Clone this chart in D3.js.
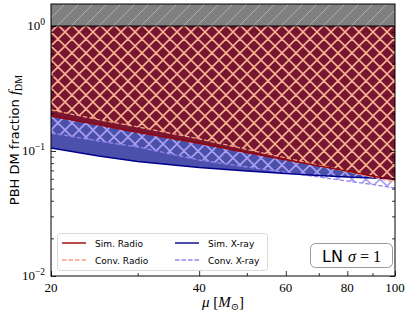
<!DOCTYPE html>
<html>
<head>
<meta charset="utf-8">
<script src="https://cdn.jsdelivr.net/npm/d3@7"></script>
<style>
  body { margin: 0; background: #fff; }
  svg { display: block; }
</style>
</head>
<body>
<div id="chart-area"></div>
<script>
// masses (x) and limits
const masses = [20, 25, 30, 40, 50, 60, 70, 80, 90, 100];
const simRadio = [0.190, 0.162, 0.141, 0.115, 0.097, 0.085, 0.076, 0.069, 0.063, 0.059];
const convRadio = [0.213, 0.178, 0.156, 0.125, 0.103, 0.088, 0.077, 0.0686, 0.0619, 0.0565];
const simXray = [0.1057, 0.0912, 0.0824, 0.0738, 0.0692, 0.0661, 0.0637, 0.0619, 0.0608, 0.0597];
const convXray = [0.1393, 0.1202, 0.1076, 0.0847, 0.0745, 0.0673, 0.0619, 0.0575, 0.054, 0.0506];
const xTickLabels = [20, 40, 60, 80, 100];
const xMinorTicks = [30, 50, 70, 90];
const yMajorTicks = [0.01, 0.1, 1];

const margin = { left: 51, right: 14, top: 4, bottom: 40 };
const width = 409 - margin.left - margin.right;
const height = 316 - margin.top - margin.bottom;

const svg = d3.select('#chart-area').append('svg')
  .attr('width', 409)
  .attr('height', 316);

const defs = svg.append('defs');

// x hatch pattern
function crossHatch(id, color, size) {
  const p = defs.append('pattern')
    .attr('id', id)
    .attr('patternUnits', 'userSpaceOnUse')
    .attr('width', size)
    .attr('height', size);
  p.append('path')
    .attr('d', `M0,0L${size},${size}M0,${size}L${size},0M${-size / 2},${size / 2}L${size / 2},${-size / 2}M${size / 2},${size * 1.5}L${size * 1.5},${size / 2}M${-size / 2},${size / 2}L${size / 2},${size * 1.5}M${size / 2},${-size / 2}L${size * 1.5},${size / 2}`)
    .attr('stroke', color)
    .attr('stroke-width', 1.6)
    .attr('fill', 'none');
}
crossHatch('radioHatch', '#f8b090', 14);
crossHatch('xrayHatch', '#aaa0f2', 14);

const gp = defs.append('pattern')
  .attr('id', 'grayHatch')
  .attr('patternUnits', 'userSpaceOnUse')
  .attr('width', 14)
  .attr('height', 14);
gp.append('path')
  .attr('d', 'M0,14L14,0M-7,7L7,-7M7,21L21,7')
  .attr('stroke', '#b8b8b8')
  .attr('stroke-width', 0.8);

defs.append('clipPath').attr('id', 'clip')
  .append('rect').attr('width', width).attr('height', height);

const g = svg.append('g')
  .attr('transform', `translate(${margin.left}, ${margin.top})`);

const x = d3.scaleLog().domain([20, 100]).range([0, width]);
const y = d3.scaleLog().domain([0.01, 1.5]).range([height, 0]);

const plot = g.append('g').attr('clip-path', 'url(#clip)');

const area = vals => d3.area()
  .x((d, i) => x(masses[i]))
  .y0(y(1))
  .y1((d) => y(d))(vals);

const line = vals => d3.line()
  .x((d, i) => x(masses[i]))
  .y(d => y(d))(vals);

// excluded region above f=1
plot.append('rect')
  .attr('x', 0).attr('y', y(1.5))
  .attr('width', width).attr('height', y(1) - y(1.5))
  .attr('fill', '#808080');
plot.append('rect')
  .attr('x', 0).attr('y', y(1.5))
  .attr('width', width).attr('height', y(1) - y(1.5))
  .attr('fill', 'url(#grayHatch)');

// x-ray fill + hatch
plot.append('path').attr('d', area(simXray)).attr('fill', '#4b50ab');
plot.append('path').attr('d', area(convXray)).attr('fill', 'url(#xrayHatch)');
// radio fill + hatch
plot.append('path').attr('d', area(simRadio)).attr('fill', '#781632');
plot.append('path').attr('d', area(convRadio)).attr('fill', 'url(#radioHatch)');

// lines
plot.append('path').attr('d', line(convXray))
  .attr('fill', 'none').attr('stroke', '#9385ee').attr('stroke-width', 1.3)
  .attr('stroke-dasharray', '4.5,2');
plot.append('path').attr('d', line(simXray))
  .attr('fill', 'none').attr('stroke', '#00008b').attr('stroke-width', 1.4);
plot.append('path').attr('d', line(convRadio))
  .attr('fill', 'none').attr('stroke', '#f5a080').attr('stroke-width', 1.3)
  .attr('stroke-dasharray', '4.5,2');
plot.append('path').attr('d', line(simRadio))
  .attr('fill', 'none').attr('stroke', '#9b0000').attr('stroke-width', 1.4);

plot.append('line')
  .attr('x1', 0).attr('x2', width)
  .attr('y1', y(1)).attr('y2', y(1))
  .attr('stroke', '#000').attr('stroke-width', 1);

// axes, ticks inward
const serif = 'Liberation Serif, DejaVu Serif, serif';
const sans = 'DejaVu Sans, sans-serif';

const yMinor = [];
[0.01, 0.1, 1].forEach(b => d3.range(2, 10).forEach(k => {
  if (b * k < 1.5) yMinor.push(b * k);
}));

function styleAxis(sel) {
  sel.select('.domain').remove();
  sel.selectAll('line').attr('stroke', '#000').attr('stroke-width', 0.8);
}

g.append('g').call(d3.axisLeft(y).tickValues(yMajorTicks).tickSize(-5).tickFormat(''))
  .call(styleAxis);
g.append('g').call(d3.axisLeft(y).tickValues(yMinor).tickSize(-3).tickFormat(''))
  .call(styleAxis);
g.append('g').attr('transform', `translate(${width},0)`)
  .call(d3.axisRight(y).tickValues(yMajorTicks).tickSize(-5).tickFormat(''))
  .call(styleAxis);
g.append('g').attr('transform', `translate(${width},0)`)
  .call(d3.axisRight(y).tickValues(yMinor).tickSize(-3).tickFormat(''))
  .call(styleAxis);
g.append('g').attr('transform', `translate(0,${height})`)
  .call(d3.axisBottom(x).tickValues(xTickLabels).tickSize(-5).tickFormat(''))
  .call(styleAxis);
g.append('g').attr('transform', `translate(0,${height})`)
  .call(d3.axisBottom(x).tickValues(xMinorTicks).tickSize(-3).tickFormat(''))
  .call(styleAxis);

// y tick labels 10^n
yMajorTicks.forEach(v => {
  const e = Math.round(Math.log10(v));
  const t = g.append('text')
    .attr('x', -6)
    .attr('y', y(v) + 4)
    .attr('text-anchor', 'end')
    .attr('font-family', serif)
    .attr('font-size', '13px');
  t.append('tspan').text('10');
  t.append('tspan').attr('dy', -5).attr('font-size', '9.5px')
    .text(e === 0 ? '0' : '\u2212' + Math.abs(e));
});

// x tick labels
xTickLabels.forEach(v => {
  g.append('text')
    .attr('x', x(v))
    .attr('y', height + 16)
    .attr('text-anchor', 'middle')
    .attr('font-family', serif)
    .attr('font-size', '13px')
    .text(v);
});

// frame
g.append('rect')
  .attr('width', width).attr('height', height)
  .attr('fill', 'none').attr('stroke', '#000').attr('stroke-width', 1);

// x axis label
const xl = g.append('text')
  .attr('x', width / 2)
  .attr('y', height + 31)
  .attr('text-anchor', 'middle')
  .attr('font-family', serif)
  .attr('font-size', '15px');
xl.append('tspan').attr('font-style', 'italic').text('\u03bc');
xl.append('tspan').text(' [');
xl.append('tspan').attr('font-style', 'italic').text('M');
xl.append('tspan').attr('dy', 3).attr('font-size', '10px').text('\u2299');
xl.append('tspan').attr('dy', -3).text(']');

// y axis label
const yl = svg.append('text')
  .attr('transform', `translate(19, ${margin.top + height / 2}) rotate(-90)`)
  .attr('text-anchor', 'middle')
  .attr('font-family', sans)
  .attr('font-size', '13px');
yl.append('tspan').text('PBH DM fraction ');
yl.append('tspan').attr('font-family', serif).attr('font-style', 'italic').attr('font-size', '15px').text('f');
yl.append('tspan').attr('font-family', serif).attr('font-size', '10px').attr('dy', 3).text('DM');

// legend
const legend = svg.append('g');
legend.append('rect')
  .attr('x', 57.5).attr('y', 233.5)
  .attr('width', 210).attr('height', 37)
  .attr('rx', 3)
  .attr('fill', 'rgba(255,255,255,0.85)')
  .attr('stroke', '#d0d0d0').attr('stroke-width', 0.8);

const legendItems = [
  { label: 'Sim. Radio', color: '#9b0000', dash: null, col: 0, row: 0 },
  { label: 'Conv. Radio', color: '#f5a080', dash: '4.5,2', col: 0, row: 1 },
  { label: 'Sim. X-ray', color: '#00008b', dash: null, col: 1, row: 0 },
  { label: 'Conv. X-ray', color: '#9385ee', dash: '4.5,2', col: 1, row: 1 }
];
const colX = [62, 175];
legendItems.forEach(d => {
  const ly = 243 + d.row * 17;
  legend.append('line')
    .attr('x1', colX[d.col]).attr('x2', colX[d.col] + 24)
    .attr('y1', ly).attr('y2', ly)
    .attr('stroke', d.color).attr('stroke-width', 1.4)
    .attr('stroke-dasharray', d.dash);
  legend.append('text')
    .attr('x', colX[d.col] + 33)
    .attr('y', ly + 3.5)
    .attr('font-family', sans)
    .attr('font-size', '9px')
    .text(d.label);
});

// LN sigma box
svg.append('rect')
  .attr('x', 310.5).attr('y', 243.5)
  .attr('width', 82).attr('height', 24)
  .attr('rx', 5)
  .attr('fill', '#fff')
  .attr('stroke', '#999').attr('stroke-width', 1);
const ln = svg.append('text')
  .attr('x', 351.5).attr('y', 261.5)
  .attr('text-anchor', 'middle')
  .attr('font-size', '16px');
ln.append('tspan').attr('font-family', sans).text('LN ');
ln.append('tspan').attr('font-family', serif).attr('font-style', 'italic').text('\u03c3');
ln.append('tspan').attr('font-family', serif).text(' = 1');
</script>
</body>
</html>
